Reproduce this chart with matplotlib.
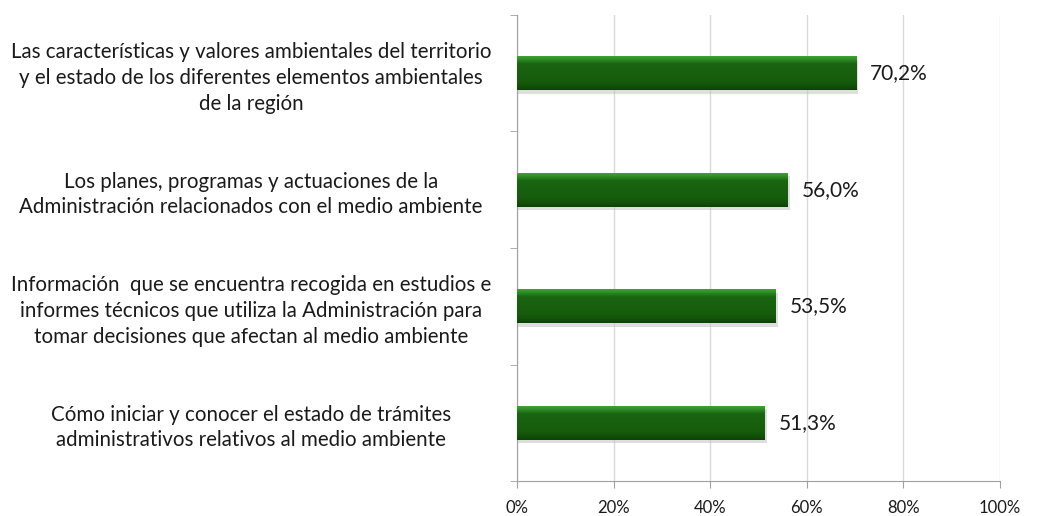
import matplotlib
matplotlib.use("Agg")
import matplotlib.pyplot as plt
import numpy as np
from matplotlib.colors import LinearSegmentedColormap
from matplotlib.transforms import offset_copy

plt.rcParams['font.family'] = ['Lato', 'DejaVu Sans']

categories = [
    "Las características y valores ambientales del territorio\ny el estado de los diferentes elementos ambientales\nde la región",
    "Los planes, programas y actuaciones de la\nAdministración relacionados con el medio ambiente",
    "Información  que se encuentra recogida en estudios e\ninformes técnicos que utiliza la Administración para\ntomar decisiones que afectan al medio ambiente",
    "Cómo iniciar y conocer el estado de trámites\nadministrativos relativos al medio ambiente",
]
values = [70.2, 56.0, 53.5, 51.3]
value_labels = ["70,2%", "56,0%", "53,5%", "51,3%"]
xticks = [0, 20, 40, 60, 80, 100]
xtick_labels = ["0%", "20%", "40%", "60%", "80%", "100%"]

fig = plt.figure(figsize=(10.47, 5.16), dpi=100)
ax = fig.add_axes([517/1047, 1-481/516, (1000-517)/1047, (481-15)/516])

ypos = np.arange(len(categories))
bar_h = 0.29
bars = ax.barh(ypos, values, height=bar_h, color='#165e0d', edgecolor='none', zorder=3)

cmap = LinearSegmentedColormap.from_list('g', [
    (0.0, '#3fa335'), (0.1, '#2e8a25'), (0.22, '#1a6511'),
    (0.75, '#165c0c'), (0.9, '#115008'), (1.0, '#0c4105')])
grad = np.linspace(0, 1, 64).reshape(-1, 1)
for b in bars:
    x0, y0 = b.get_x(), b.get_y()
    w, h = b.get_width(), b.get_height()
    ax.barh(y0 + h/2 + 0.03, w + 0.5, height=h, left=x0, color='#c8c8c8', alpha=0.6,
            zorder=2, edgecolor='none')
    im = ax.imshow(grad, cmap=cmap, aspect='auto', extent=(x0, x0 + w, y0 + h, y0),
                   zorder=4, interpolation='bicubic')
    im.set_clip_path(b)

for y, v, lab in zip(ypos, values, value_labels):
    ax.text(v + 2.9, y, lab, va='center', ha='left', fontsize=15, color='#1a1a1a', zorder=5)

ax.set_xlim(0, 100)
ax.set_ylim(len(categories) - 0.5, -0.5)
ax.set_xticks(xticks)
ax.set_xticklabels(xtick_labels, fontsize=12, color='#1a1a1a')
ax.set_yticks(ypos)
ax.set_yticklabels(categories, fontsize=14.8, color='#1a1a1a', multialignment='center',
                   linespacing=1.35)
ax.set_yticks(np.arange(-0.5, len(categories), 1.0), minor=True)
ax.tick_params(axis='y', which='major', length=0, pad=0)
ax.tick_params(axis='y', which='minor', length=5, color='#a0a0a0', direction='out')
ax.tick_params(axis='x', length=5, color='#a0a0a0', direction='out', pad=9)
for t in ax.yaxis.get_major_ticks():
    t.label1.set_horizontalalignment('center')
    t.label1.set_transform(offset_copy(ax.get_yaxis_transform(), fig=fig,
                                       x=-(517 - 251), y=0, units='dots'))

ax.grid(axis='x', color='#d9d9d9', linewidth=1, zorder=0)
ax.set_axisbelow(True)
for s in ['top', 'right']:
    ax.spines[s].set_visible(False)
ax.spines['left'].set_color('#a0a0a0')
ax.spines['bottom'].set_color('#a0a0a0')

fig.savefig('out.png', dpi=100)
